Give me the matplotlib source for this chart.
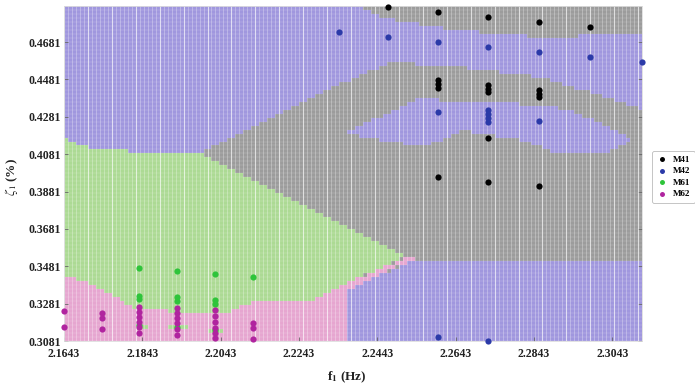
import numpy as np
import matplotlib
matplotlib.use("Agg")
import matplotlib.pyplot as plt
from matplotlib.path import Path
from matplotlib.colors import ListedColormap

plt.rcParams['font.family'] = ['Liberation Serif', 'DejaVu Serif']
plt.rcParams['mathtext.fontset'] = 'stix'

# ---- axes ranges / ticks ----
x_min, x_max = 2.1643, 2.3119
y_min, y_max = 0.3081, 0.4875
x_ticks = [2.1643, 2.1843, 2.2043, 2.2243, 2.2443, 2.2643, 2.2843, 2.3043]
y_ticks = [0.3081, 0.3281, 0.3481, 0.3681, 0.3881, 0.4081, 0.4281, 0.4481, 0.4681]

# ---- classification regions (data coords) ----
# class 0 = M4 (first, gray) is the background
blue_top_x = [2.1643, 2.2322, 2.2450, 2.2647, 2.2866, 2.3130, 2.3130, 2.2866, 2.2662, 2.2476, 2.2322, 2.1990, 2.1643]
blue_top_y = [0.4950, 0.4950, 0.4814, 0.4745, 0.4707, 0.4729, 0.4317, 0.4493, 0.4547, 0.4574, 0.4435, 0.4087, 0.4087]
blue_island_x = [2.2356, 2.2545, 2.2662, 2.2790, 2.2917, 2.3020, 2.3096, 2.3030, 2.2902, 2.2815, 2.2662, 2.2560]
blue_island_y = [0.4194, 0.4376, 0.4370, 0.4354, 0.4328, 0.4247, 0.4156, 0.4087, 0.4081, 0.4156, 0.4210, 0.4119]
blue_bottom_x = [2.2361, 2.2361, 2.2537, 2.3130, 2.3130]
blue_bottom_y = [0.3000, 0.3349, 0.3514, 0.3504, 0.3000]
green_x = [2.1643, 2.1709, 2.1837, 2.1990, 2.2514, 2.2361, 2.2361, 2.1600, 2.1600]
green_y = [0.4167, 0.4108, 0.4092, 0.4087, 0.3530, 0.3386, 0.3000, 0.3000, 0.4167]
pink_x = [2.1600, 2.1643, 2.1735, 2.1819, 2.1888, 2.1990, 2.2059, 2.2144, 2.2264, 2.2361, 2.2514, 2.2537, 2.2361, 2.2361, 2.1600]
pink_y = [0.3434, 0.3434, 0.3365, 0.3258, 0.3247, 0.3220, 0.3236, 0.3300, 0.3290, 0.3386, 0.3525, 0.3520, 0.3349, 0.3000, 0.3000]
green_islands = [
    ([2.1824, 2.1845, 2.1863, 2.1845], [0.3161, 0.3177, 0.3161, 0.3145]),
    ([2.1901, 2.1932, 2.1970, 2.1932], [0.3151, 0.3167, 0.3151, 0.3135]),
    ([2.2003, 2.2029, 2.2059, 2.2029], [0.3140, 0.3156, 0.3140, 0.3124]),
]

# ---- measured points ----
m4a_x = [2.2470, 2.2598, 2.2598, 2.2598, 2.2598, 2.2598, 2.2726, 2.2726, 2.2726, 2.2726, 2.2726, 2.2726,
         2.2856, 2.2856, 2.2856, 2.2856, 2.2856, 2.2986]
m4a_y = [0.4868, 0.4841, 0.4477, 0.4456, 0.4435, 0.3958, 0.4814, 0.4451, 0.4429, 0.4413, 0.4167, 0.3932,
         0.4788, 0.4424, 0.4402, 0.4386, 0.3910, 0.4761]
m4b_x = [2.2345, 2.2470, 2.2598, 2.2598, 2.2598, 2.2726, 2.2726, 2.2726, 2.2726, 2.2726, 2.2726,
         2.2856, 2.2856, 2.2986, 2.3119]
m4b_y = [0.4734, 0.4707, 0.4681, 0.4306, 0.3102, 0.4654, 0.4317, 0.4295, 0.4274, 0.4253, 0.3081,
         0.4627, 0.4258, 0.4600, 0.4574]
m6a_x = [2.1835, 2.1835, 2.1835, 2.1835, 2.1932, 2.1932, 2.1932, 2.1932, 2.2029, 2.2029, 2.2029, 2.2029, 2.2126]
m6a_y = [0.3472, 0.3322, 0.3306, 0.3167, 0.3456, 0.3316, 0.3295, 0.3156, 0.3439, 0.3300, 0.3279, 0.3140, 0.3423]
m6b_x = [2.1644, 2.1644, 2.1740, 2.1740, 2.1740,
         2.1835, 2.1835, 2.1835, 2.1835, 2.1835, 2.1835,
         2.1932, 2.1932, 2.1932, 2.1932, 2.1932, 2.1932,
         2.2029, 2.2029, 2.2029, 2.2029, 2.2029, 2.2029,
         2.2126, 2.2126, 2.2126]
m6b_y = [0.3242, 0.3156, 0.3231, 0.3204, 0.3145,
         0.3263, 0.3236, 0.3210, 0.3183, 0.3156, 0.3124,
         0.3258, 0.3231, 0.3204, 0.3177, 0.3145, 0.3113,
         0.3247, 0.3215, 0.3183, 0.3151, 0.3124, 0.3097,
         0.3177, 0.3151, 0.3092]

labels = ["M41", "M42", "M61", "M62"]
point_colors = ["#000000", "#2b3aa8", "#2ec43a", "#b0249f"]
region_colors = ["#9c9c9c", "#a097de", "#acda94", "#e6a6d0"]

# ---- build class map ----
nx, ny = 145, 84
xe = np.linspace(x_min, x_max, nx + 1)
ye = np.linspace(y_min, y_max, ny + 1)
xc = (xe[:-1] + xe[1:]) / 2
yc = (ye[:-1] + ye[1:]) / 2
XX, YY = np.meshgrid(xc, yc)
pts = np.column_stack([XX.ravel(), YY.ravel()])
cls = np.zeros(pts.shape[0], dtype=int)

def paint(px, py, c):
    p = Path(np.column_stack([px, py]))
    cls[p.contains_points(pts)] = c

paint(blue_top_x, blue_top_y, 1)
paint(blue_island_x, blue_island_y, 1)
paint(blue_bottom_x, blue_bottom_y, 1)
paint(green_x, green_y, 2)
paint(pink_x, pink_y, 3)
for gx, gy in green_islands:
    paint(gx, gy, 2)
C = cls.reshape(ny, nx)

fig = plt.figure(figsize=(6.95, 3.85), dpi=100)
ax = fig.add_axes([0.092, 0.114, 0.832, 0.871])
ax.pcolormesh(xe, ye, C, cmap=ListedColormap(region_colors), vmin=-0.5, vmax=3.5,
              shading='flat', antialiased=False)
# cell grid texture
ax.vlines(xe, y_min, y_max, colors='white', linewidth=0.45, alpha=0.45, zorder=1.5)
ax.hlines(ye, x_min, x_max, colors='white', linewidth=0.35, alpha=0.3, zorder=1.5)
ax.vlines(xe[::6], y_min, y_max, colors='white', linewidth=0.8, alpha=0.55, zorder=1.6)

series = [(m4a_x, m4a_y), (m4b_x, m4b_y), (m6a_x, m6a_y), (m6b_x, m6b_y)]
for (sx, sy), col, lab in zip(series, point_colors, labels):
    ax.scatter(sx, sy, s=20, color=col, label=lab, zorder=3, clip_on=False, linewidths=0)

ax.set_xlim(x_min, x_max)
ax.set_ylim(y_min, y_max)
ax.set_xticks(x_ticks)
ax.set_yticks(y_ticks)
ax.set_xticklabels([f"{v:.4f}" for v in x_ticks], fontsize=8.5, fontweight='bold', color='#222222')
ax.set_yticklabels([f"{v:.4f}" for v in y_ticks], fontsize=8.5, fontweight='bold', color='#222222')
ax.tick_params(axis='x', pad=5)
ax.tick_params(axis='y', pad=2)
ax.tick_params(direction='in', length=3, width=0.6, color='#666666', top=False, right=True)
for s in ax.spines.values():
    s.set_color('#dddddd')
    s.set_linewidth(0.6)

ax.set_xlabel(r"f$_\mathbf{1}$ (Hz)", fontsize=9.5, fontweight='bold', color='#222222')
ax.xaxis.set_label_coords(0.49, -0.085)
ax.set_ylabel(r"$\zeta_1$ (%)", fontsize=9.5, fontweight='bold', color='#222222')
ax.yaxis.set_label_coords(-0.076, 0.49)

leg = fig.legend(loc='upper left', bbox_to_anchor=(0.932, 0.62),
                 prop={'weight': 'bold', 'size': 6.5}, frameon=True, handletextpad=0.6,
                 borderpad=0.5, labelspacing=0.35, markerscale=0.8, handlelength=1.2)
leg.get_frame().set_edgecolor('#aaaaaa')
leg.get_frame().set_linewidth(0.6)

fig.savefig("out.png", dpi=100)
